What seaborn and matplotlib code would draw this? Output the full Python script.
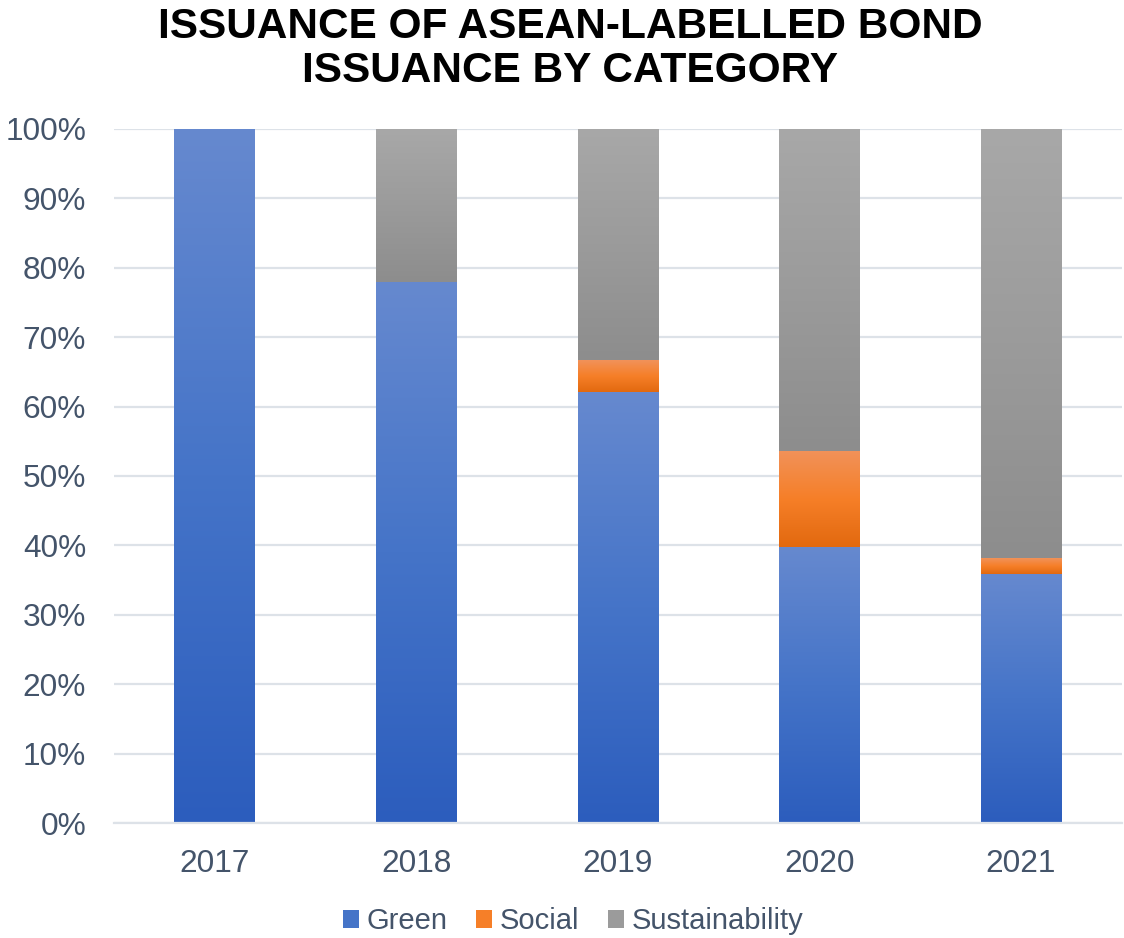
import numpy as np
import pandas as pd
import matplotlib
matplotlib.use("Agg")
import matplotlib.pyplot as plt
from matplotlib.colors import LinearSegmentedColormap
from matplotlib.patches import Patch
import seaborn as sns

# Share of ASEAN-labelled bond issuance by category (%)
years = ["2017", "2018", "2019", "2020", "2021"]
green = [100.0, 78.0, 62.1, 39.7, 35.9]
social = [0.0, 0.0, 4.6, 13.9, 2.3]
sustainability = [0.0, 22.0, 33.3, 46.4, 61.8]
categories = ["Green", "Social", "Sustainability"]
y_ticks = [0, 10, 20, 30, 40, 50, 60, 70, 80, 90, 100]

# bottom, middle, top shades of each segment's vertical gradient
shades = {
    "Green": ["#2C5DBD", "#4574C8", "#6689CF"],
    "Social": ["#E2690F", "#F67F28", "#F1925A"],
    "Sustainability": ["#8D8D8D", "#9B9B9B", "#A8A8A8"],
}
text_color = "#44546A"
grid_color = "#DDE2E8"

sns.set_theme(style="white")
plt.rcParams["font.family"] = ["Liberation Sans", "DejaVu Sans"]

df = pd.DataFrame({"Year": years, "Green": green, "Social": social,
                   "Sustainability": sustainability})

fig = plt.figure(figsize=(11.24, 9.38), dpi=100)
ax = fig.add_axes([0.1014, 0.1226, 0.8966, 0.7399])

bottoms = np.zeros(len(years))
for cat in categories:
    sns.barplot(data=df, x="Year", y=cat, color=shades[cat][1], saturation=1,
                width=0.4, errorbar=None, bottom=bottoms.copy(), ax=ax,
                linewidth=0, zorder=2)
    container = ax.containers[-1]
    cmap = LinearSegmentedColormap.from_list(cat, shades[cat])
    grad = cmap(np.linspace(0, 1, 256))[:, None, :]
    for patch in container.patches:
        h = patch.get_height()
        if h <= 0:
            continue
        x0, y0, w = patch.get_x(), patch.get_y(), patch.get_width()
        ax.imshow(grad, extent=[x0, x0 + w, y0, y0 + h], origin="lower",
                  aspect="auto", zorder=2.5, interpolation="bilinear")
    bottoms += df[cat].to_numpy()

ax.set_xlim(-0.5, len(years) - 0.5)
ax.set_ylim(0, 100)
ax.set_yticks(y_ticks)
ax.set_yticklabels([f"{t}%" for t in y_ticks])
ax.set_xlabel("")
ax.set_ylabel("")
ax.tick_params(axis="both", labelsize=22.8, labelcolor=text_color, length=0)
ax.tick_params(axis="x", pad=19)
ax.tick_params(axis="y", pad=20)
for lbl in ax.get_yticklabels():
    lbl.set_horizontalalignment("right")

ax.yaxis.grid(True, color=grid_color, linewidth=1.6, zorder=0)
ax.set_axisbelow(True)
for side in ["top", "right", "left"]:
    ax.spines[side].set_visible(False)
ax.spines["bottom"].set_color(grid_color)
ax.spines["bottom"].set_linewidth(1.6)

handles = [Patch(facecolor=shades[c][1], edgecolor="none", label=c)
           for c in categories]
fig.legend(handles=handles, loc="center", bbox_to_anchor=(0.51, 0.018),
           ncol=3, frameon=False, fontsize=21, labelcolor=text_color,
           handlelength=0.55, handleheight=0.55, handletextpad=0.25,
           columnspacing=1.0)

fig.text(0.507, 0.993, "ISSUANCE OF ASEAN-LABELLED BOND\nISSUANCE BY CATEGORY",
         ha="center", va="top", fontsize=30.5, fontweight="bold", color="black",
         linespacing=1.15)

fig.savefig("out.png", dpi=100)
